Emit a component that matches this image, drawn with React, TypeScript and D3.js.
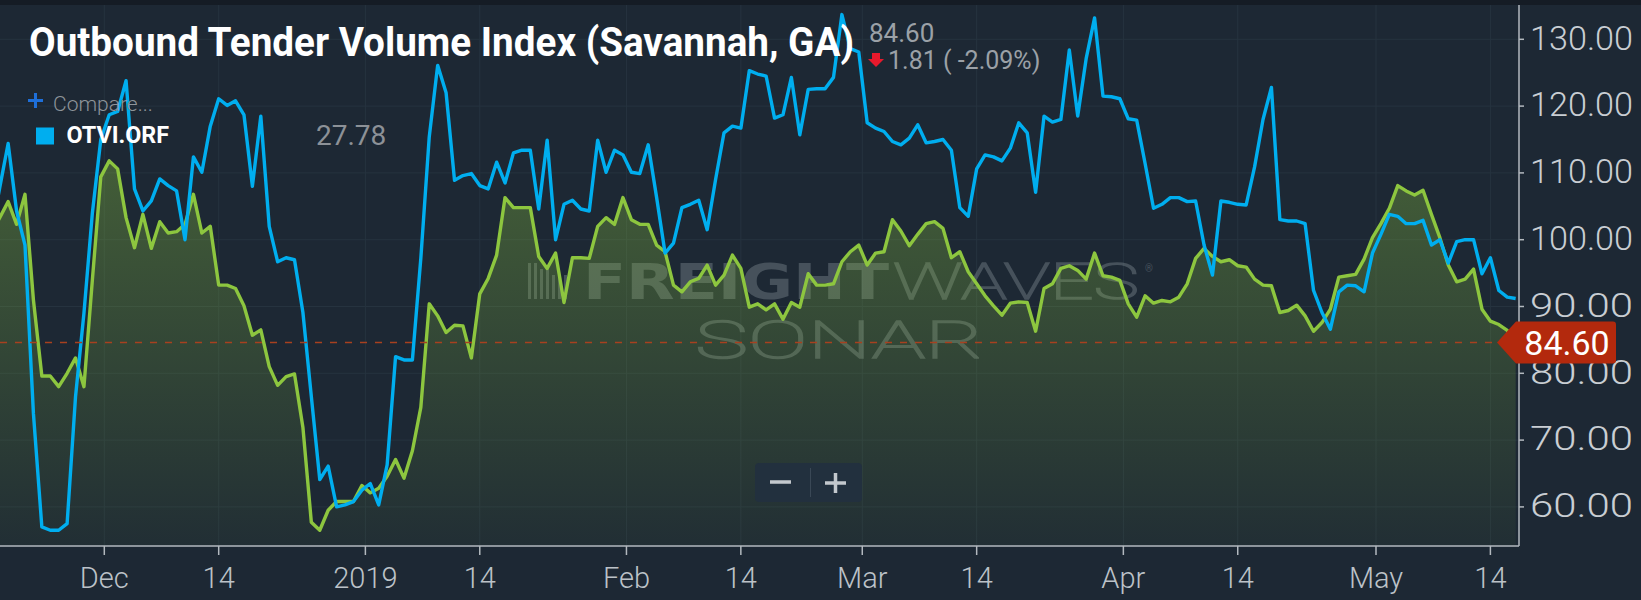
import { useEffect, useRef } from "react";
import * as d3 from "d3";

// Daily index values, first point Nov 17 2018, last point May 17 2019
const SERIES_START = new Date(2018, 10, 17, 14);

// Outbound Tender Volume Index, Savannah GA (green area)
const SAVANNAH = [
  101, 103.3, 105.7, 102.3, 106.8, 91, 79.6, 79.6, 78, 80, 82.3, 78, 94,
  109.4, 111.8, 110.6, 103.3, 98.8, 103.8, 98.7, 102.7, 101, 101.2, 102.3, 106.8, 101, 102, 93.2, 93.2, 92.7, 90.1, 85.7, 86.5,
  81, 78.2, 79.5, 79.9, 71.9, 57.7, 56.5, 59.5, 60.8, 60.8, 60.8, 63.2, 62.1, 62.8, 64.6, 67.1, 64.3, 68.4, 74.9, 90.4,
  88.6, 86.1, 87.2, 87.1, 82.3, 91.9, 94.2, 97.7, 106.3, 104.8, 104.8, 104.8, 97.5, 95.7, 98, 90.6, 97.3, 97.3, 97.2, 102,
  103.3, 102.3, 106.3, 103, 102.3, 102.3, 99.2, 98.2, 93.2, 92.2, 93.7, 94.2, 96.2, 93.2, 94.7, 97.7, 95.7, 89.9, 90.4, 89.5,
  90.4, 88.1, 90.6, 89.9, 94.9, 93.2, 93.2, 93.4, 96.7, 98.2, 99.2, 96.2, 98, 98.2, 103, 101.3, 99.1, 100.8, 102.4, 102.7,
  101.7, 97.3, 98.2, 95.2, 93.4, 91.6, 90.1, 88.7, 90.5, 90.7, 90.6, 86.3, 92.7, 93.4, 95.7, 96.1, 95.4, 94.1, 98, 94.6,
  94.4, 93.9, 90.4, 88.4, 91.6, 90.5, 90.9, 90.7, 91.4, 93.4, 97.2, 98.7, 97.5, 96.7, 97, 96.1, 95.9, 94.1, 93.2, 93.1,
  89.1, 89.4, 90.2, 88.6, 86.3, 87.6, 89.6, 94.4, 94.6, 94.8, 97.1, 100.3, 102.4, 104.7, 108.1, 107.3, 106.7, 107.4, 103.8, 100.3,
  96.2, 93.7, 94.1, 95.6, 89.6, 87.8, 87.3, 86.41, 84.6,
];

// OTVI.ORF compare series (blue line)
const OTVI_ORF = [
  101, 107.8, 114.4, 104.3, 99.2, 74, 57, 56.5, 56.5, 57.5, 76.5, 89, 104,
  115, 118.7, 119.2, 123.8, 107.6, 104.3, 105.8, 109.1, 108.1, 107.3, 100, 112.4, 110.1, 117, 121.1, 120.1, 120.8, 118.7, 108, 118.5,
  102, 96.7, 97.3, 97, 89.1, 76.5, 64.1, 66.1, 60, 60.3, 60.8, 62.5, 63.5, 60.3, 66.3, 82.5, 82, 82, 97.2, 115.4,
  126.1, 122, 108.9, 109.6, 109.9, 108.1, 107.6, 111.6, 108.5, 113, 113.4, 113.4, 104.6, 114.9, 100, 105.3, 105.9, 104.6, 104.3, 114.9,
  110.1, 113.4, 112.7, 110.1, 109.9, 114.2, 106.3, 98, 99.5, 104.8, 105.3, 105.9, 101.5, 109, 116, 117, 116.7, 125.3, 124.8, 124.5,
  118.2, 118.7, 124.3, 115.7, 122.5, 122.6, 122.6, 124.3, 133.7, 128.6, 128.1, 117.5, 116.7, 116.2, 114.7, 114.2, 115.2, 117.2, 114.5, 114.7,
  115, 113.4, 104.8, 103.5, 110.6, 112.7, 112.4, 111.8, 113.7, 117.5, 116, 107.1, 118.5, 117.6, 118, 128.4, 118.5, 127.1, 133.2, 121.5,
  121.4, 121.1, 118.1, 117.9, 111.4, 104.7, 105.3, 106.3, 106.3, 105.7, 105.8, 99.2, 94.7, 105.8, 105.6, 105.3, 105.2, 110.9, 118, 122.8,
  103, 102.8, 102.8, 102.4, 92.4, 89.1, 86.6, 92.2, 93.2, 93.1, 92.2, 98, 100.8, 103.8, 103.5, 102.4, 102.4, 102.9, 99.2, 100,
  96.5, 99.7, 100, 100, 94.9, 97.3, 92.4, 91.4, 91.2,
];

const X_TICKS = [
  new Date(2018, 11, 1), new Date(2018, 11, 14, 14),
  new Date(2019, 0, 1), new Date(2019, 0, 14, 14),
  new Date(2019, 1, 1), new Date(2019, 1, 14, 14),
  new Date(2019, 2, 1), new Date(2019, 2, 14, 14),
  new Date(2019, 3, 1), new Date(2019, 3, 14, 14),
  new Date(2019, 4, 1), new Date(2019, 4, 14, 14),
];
const X_LABELS = ["Dec", "14", "2019", "14", "Feb", "14", "Mar", "14", "Apr", "14", "May", "14"];
const Y_TICKS = [60, 70, 80, 90, 100, 110, 120, 130];

const LAST_VALUE = 84.6;
const TITLE = "Outbound Tender Volume Index (Savannah, GA)";
const CHANGE_TEXT = "1.81 ( -2.09%)";
const COMPARE_VALUE = "27.78";

const FONT = "Roboto, 'Noto Sans', sans-serif";

export default function App() {
  const svgRef = useRef<SVGSVGElement>(null);

  useEffect(() => {
    if (!svgRef.current) return;
    document.body.style.margin = "0";
    document.body.style.background = "#1d2834";

    const width = 1641;
    const height = 600;
    const plot = { left: 0, right: 1519, top: 5, bottom: 546 };

    d3.select(svgRef.current).selectAll("*").remove();
    const svg = d3.select(svgRef.current).attr("width", width).attr("height", height);

    const x = d3
      .scaleTime()
      .domain([new Date(2018, 11, 1), new Date(2019, 4, 1)])
      .range([104.3, 1376]);
    const y = d3.scaleLinear().domain([60, 130]).range([506.9, 39.3]);

    const dateAt = (i: number) =>
      new Date(SERIES_START.getFullYear(), SERIES_START.getMonth(), SERIES_START.getDate() + i, 14);

    // background
    svg.append("rect").attr("width", width).attr("height", height).attr("fill", "#1d2834");
    svg.append("rect").attr("width", width).attr("height", plot.top).attr("fill", "#151c25");

    const defs = svg.append("defs");
    defs
      .append("clipPath")
      .attr("id", "plot-clip")
      .append("rect")
      .attr("x", plot.left)
      .attr("y", plot.top)
      .attr("width", plot.right - plot.left)
      .attr("height", plot.bottom - plot.top);

    const grad = defs
      .append("linearGradient")
      .attr("id", "area-grad")
      .attr("gradientUnits", "userSpaceOnUse")
      .attr("x1", 0)
      .attr("x2", 0)
      .attr("y1", y(d3.max(SAVANNAH)!))
      .attr("y2", plot.bottom);
    grad.append("stop").attr("offset", 0).attr("stop-color", "#8dc63f").attr("stop-opacity", 0.34);
    grad.append("stop").attr("offset", 1).attr("stop-color", "#8dc63f").attr("stop-opacity", 0.04);

    // grid
    const grid = svg.append("g");
    Y_TICKS.forEach((t) => {
      grid
        .append("line")
        .attr("x1", plot.left)
        .attr("x2", plot.right)
        .attr("y1", y(t))
        .attr("y2", y(t))
        .attr("stroke", "#26333f")
        .attr("stroke-width", 1);
    });
    X_TICKS.forEach((t) => {
      grid
        .append("line")
        .attr("x1", x(t))
        .attr("x2", x(t))
        .attr("y1", plot.top)
        .attr("y2", plot.bottom)
        .attr("stroke", "#26333f")
        .attr("stroke-width", 1);
    });

    // watermark
    const wm = svg.append("g").attr("opacity", 0.36);
    [0, 6, 12, 18, 24, 30, 36].forEach((dx, i) => {
      const h = i < 2 ? 36 : i < 4 ? 30 : 24;
      wm.append("rect")
        .attr("x", 528 + dx)
        .attr("y", 299 - h)
        .attr("width", 3)
        .attr("height", h)
        .attr("fill", "#8e9aa0");
    });
    wm.append("text")
      .attr("x", 583)
      .attr("y", 299)
      .attr("font-family", "'DejaVu Sans', sans-serif")
      .attr("font-weight", 700)
      .attr("font-size", 50)
      .attr("textLength", 306)
      .attr("lengthAdjust", "spacingAndGlyphs")
      .attr("fill", "#8e9aa0")
      .text("FREIGHT");
    wm.append("text")
      .attr("x", 893)
      .attr("y", 299)
      .attr("font-family", FONT)
      .attr("font-weight", 100)
      .attr("font-size", 50)
      .attr("textLength", 246)
      .attr("lengthAdjust", "spacingAndGlyphs")
      .attr("fill", "none")
      .attr("stroke", "#8e9aa0")
      .attr("stroke-width", 1.6)
      .text("WAVES");
    wm.append("text")
      .attr("x", 1145)
      .attr("y", 272)
      .attr("font-family", FONT)
      .attr("font-size", 10)
      .attr("fill", "#8e9aa0")
      .text("®");
    wm.append("text")
      .attr("x", 695)
      .attr("y", 358)
      .attr("font-family", FONT)
      .attr("font-weight", 100)
      .attr("font-size", 52)
      .attr("textLength", 289)
      .attr("lengthAdjust", "spacingAndGlyphs")
      .attr("fill", "none")
      .attr("stroke", "#8e9aa0")
      .attr("stroke-width", 1.6)
      .text("SONAR");

    const series = svg.append("g").attr("clip-path", "url(#plot-clip)");

    const area = d3
      .area<number>()
      .x((_, i) => x(dateAt(i)))
      .y0(plot.bottom)
      .y1((d) => y(d));
    series.append("path").datum(SAVANNAH).attr("d", area).attr("fill", "url(#area-grad)");

    const line = d3
      .line<number>()
      .x((_, i) => x(dateAt(i)))
      .y((d) => y(d));
    series
      .append("path")
      .datum(SAVANNAH)
      .attr("d", line)
      .attr("fill", "none")
      .attr("stroke", "#8dc63f")
      .attr("stroke-width", 3.4)
      .attr("stroke-linejoin", "round");
    series
      .append("path")
      .datum(OTVI_ORF)
      .attr("d", line)
      .attr("fill", "none")
      .attr("stroke", "#00aeef")
      .attr("stroke-width", 3.4)
      .attr("stroke-linejoin", "round");

    // last value line
    const lastY = y(LAST_VALUE);
    svg
      .append("line")
      .attr("x1", plot.left)
      .attr("x2", 1497)
      .attr("y1", lastY)
      .attr("y2", lastY)
      .attr("stroke", "#a8401f")
      .attr("stroke-width", 1.5)
      .attr("stroke-dasharray", "7,8");

    // axes
    const axisColor = "#b3b9bf";
    svg
      .append("line")
      .attr("x1", plot.left)
      .attr("x2", plot.right)
      .attr("y1", plot.bottom)
      .attr("y2", plot.bottom)
      .attr("stroke", axisColor)
      .attr("stroke-width", 1.5);
    svg
      .append("line")
      .attr("x1", plot.right)
      .attr("x2", plot.right)
      .attr("y1", plot.top)
      .attr("y2", plot.bottom)
      .attr("stroke", axisColor)
      .attr("stroke-width", 1.5);

    X_TICKS.forEach((t, i) => {
      svg
        .append("line")
        .attr("x1", x(t))
        .attr("x2", x(t))
        .attr("y1", plot.bottom)
        .attr("y2", plot.bottom + 9)
        .attr("stroke", axisColor)
        .attr("stroke-width", 1.5);
      svg
        .append("text")
        .attr("x", x(t))
        .attr("y", 588)
        .attr("text-anchor", "middle")
        .attr("font-family", FONT)
        .attr("font-weight", 300)
        .attr("font-size", 29)
        .attr("fill", "#bcc2c8")
        .text(X_LABELS[i]);
    });

    Y_TICKS.forEach((t) => {
      svg
        .append("line")
        .attr("x1", plot.right)
        .attr("x2", plot.right + 5)
        .attr("y1", y(t))
        .attr("y2", y(t))
        .attr("stroke", axisColor)
        .attr("stroke-width", 1.5);
      svg
        .append("text")
        .attr("x", 1530)
        .attr("y", y(t) + 10.3)
        .attr("font-family", FONT)
        .attr("font-weight", 300)
        .attr("font-size", 34)
        .attr("textLength", 103)
        .attr("lengthAdjust", "spacingAndGlyphs")
        .attr("fill", "#c9ced3")
        .text(d3.format(".2f")(t));
    });

    // last value flag
    const flag = svg.append("g");
    flag
      .append("path")
      .attr(
        "d",
        `M1497,${lastY} L1516,${lastY - 21} L1613,${lastY - 21} Q1616,${lastY - 21} 1616,${lastY - 18} L1616,${lastY + 18} Q1616,${lastY + 21} 1613,${lastY + 21} L1516,${lastY + 21} Z`
      )
      .attr("fill", "#b3290d");
    flag
      .append("text")
      .attr("x", 1567)
      .attr("y", lastY + 12)
      .attr("text-anchor", "middle")
      .attr("font-family", FONT)
      .attr("font-size", 34)
      .attr("fill", "#ffffff")
      .text(d3.format(".2f")(LAST_VALUE));

    // title and readouts
    svg
      .append("text")
      .attr("x", 29)
      .attr("y", 56)
      .attr("font-family", FONT)
      .attr("font-weight", 700)
      .attr("font-size", 41)
      .attr("textLength", 825)
      .attr("lengthAdjust", "spacingAndGlyphs")
      .attr("fill", "#ffffff")
      .text(TITLE);
    svg
      .append("text")
      .attr("x", 869)
      .attr("y", 42)
      .attr("font-family", FONT)
      .attr("font-size", 26)
      .attr("fill", "#9ba1a7")
      .text(d3.format(".2f")(LAST_VALUE));
    svg
      .append("path")
      .attr("d", "M872,53 L880,53 L880,59 L884,59 L876,67 L868,59 L872,59 Z")
      .attr("fill", "#e8192c");
    svg
      .append("text")
      .attr("x", 888)
      .attr("y", 69)
      .attr("font-family", FONT)
      .attr("font-size", 25)
      .attr("fill", "#9ba1a7")
      .text(CHANGE_TEXT);

    // legend
    svg
      .append("path")
      .attr("d", "M28,100.5 H43 M35.5,93 V108")
      .attr("stroke", "#1e6fd9")
      .attr("stroke-width", 3);
    svg
      .append("text")
      .attr("x", 53)
      .attr("y", 111)
      .attr("font-family", FONT)
      .attr("font-weight", 300)
      .attr("font-size", 21)
      .attr("fill", "#8e949a")
      .text("Compare...");
    svg
      .append("rect")
      .attr("x", 36)
      .attr("y", 127.5)
      .attr("width", 18)
      .attr("height", 17)
      .attr("fill", "#00aeef");
    svg
      .append("text")
      .attr("x", 66.5)
      .attr("y", 142.8)
      .attr("font-family", FONT)
      .attr("font-weight", 700)
      .attr("font-size", 24)
      .attr("textLength", 102.6)
      .attr("lengthAdjust", "spacingAndGlyphs")
      .attr("fill", "#ffffff")
      .text("OTVI.ORF");
    svg
      .append("text")
      .attr("x", 316)
      .attr("y", 144.5)
      .attr("font-family", FONT)
      .attr("font-size", 28)
      .attr("fill", "#8c9197")
      .text(COMPARE_VALUE);

    // zoom buttons
    const zoom = svg.append("g");
    zoom
      .append("rect")
      .attr("x", 755)
      .attr("y", 463)
      .attr("width", 107)
      .attr("height", 39)
      .attr("rx", 4)
      .attr("fill", "#22303e");
    zoom
      .append("line")
      .attr("x1", 810.5)
      .attr("x2", 810.5)
      .attr("y1", 468)
      .attr("y2", 497)
      .attr("stroke", "#3a4856");
    zoom
      .append("path")
      .attr("d", "M770,482 H791 M825,483 H846 M835.5,473 V493")
      .attr("stroke", "#c3c8cd")
      .attr("stroke-width", 3.5);
  }, []);

  return <svg ref={svgRef} style={{ display: "block" }} />;
}
